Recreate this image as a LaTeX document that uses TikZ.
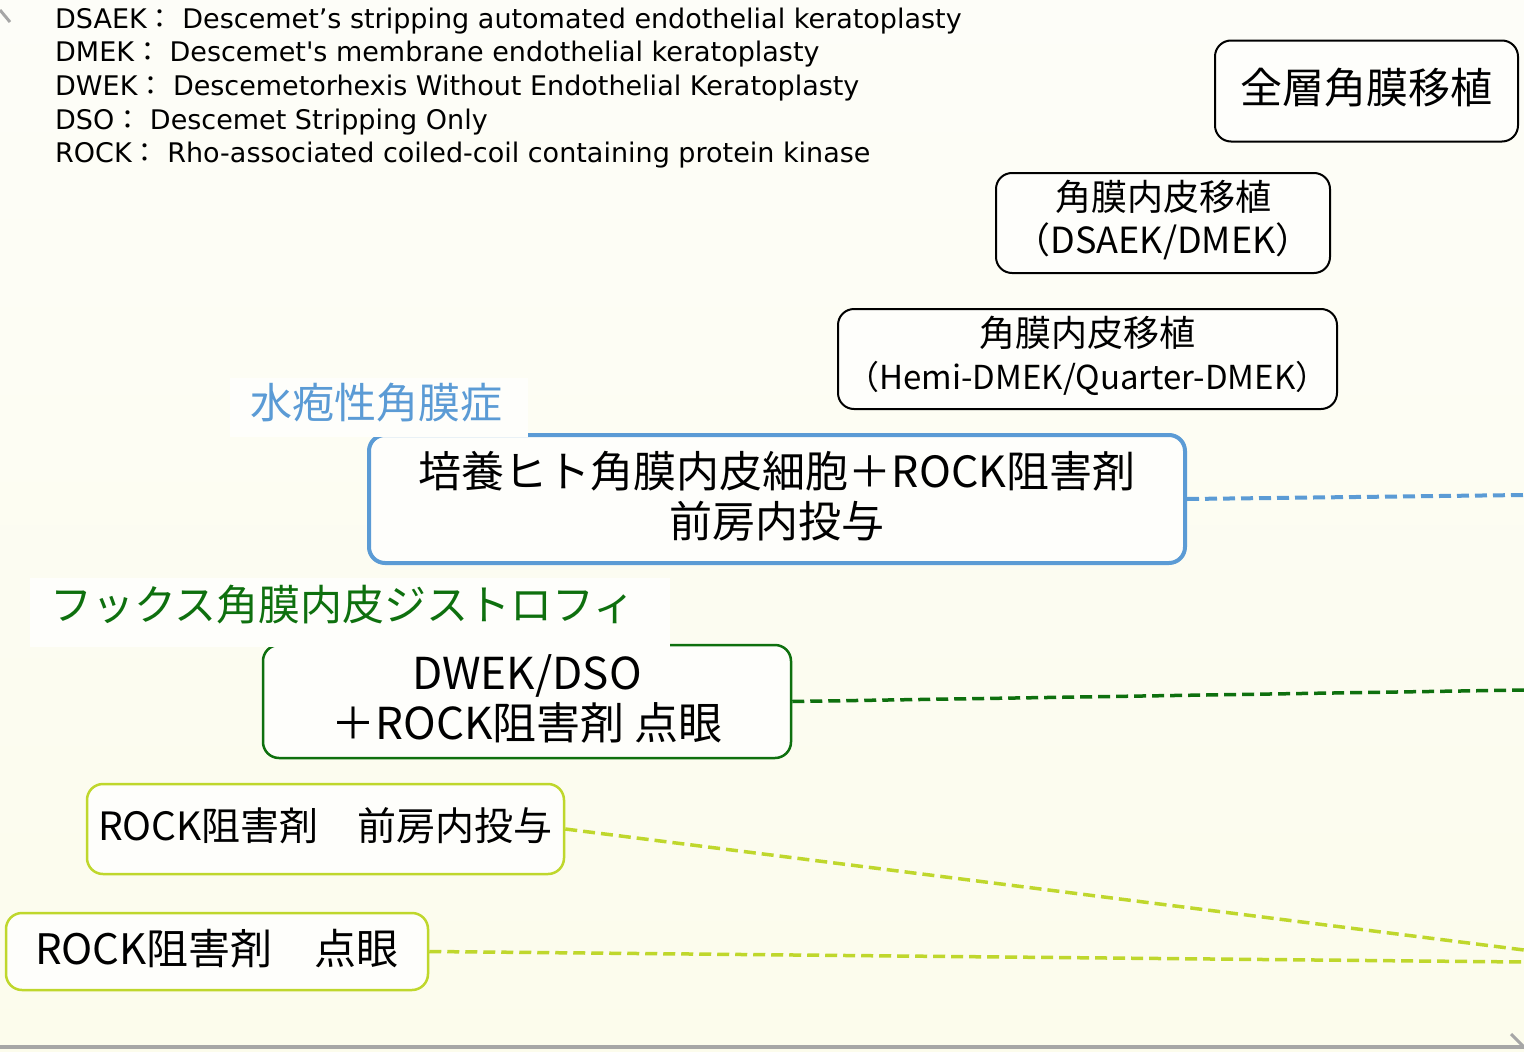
\documentclass[tikz,border=0pt]{standalone}
\usepackage{fontspec}
\setmainfont{DejaVu Sans}
\newfontfamily\dvraw{DejaVu Sans}[Ligatures=TeXOff]
\newfontfamily\jp{Noto Sans CJK JP}
\newcommand{\up}[1]{\raisebox{3pt}[\height][\depth]{#1}}
\definecolor{bgtop}{RGB}{253,253,248}
\definecolor{bgbot}{RGB}{252,252,236}
\definecolor{labelbg}{RGB}{254,254,251}
\definecolor{cblue}{HTML}{5B9BD5}
\definecolor{cgreen}{HTML}{0E700E}
\definecolor{cyg}{HTML}{BFD72C}
\definecolor{axisgray}{HTML}{A6A6A6}
\tikzset{
  legend/.style={anchor=base west, inner sep=0pt, font=\fontsize{27}{30}\selectfont},
  box/.style={draw, rounded corners=16pt, align=center, inner sep=0pt, fill=labelbg, text=black},
  blackbox/.style={box, draw=black, line width=2pt},
  bluebox/.style={box, draw=cblue, line width=4pt},
  greenbox/.style={box, draw=cgreen, line width=2.5pt},
  ygbox/.style={box, draw=cyg, line width=2.5pt},
  conn/.style={dash pattern=on 12pt off 6pt},
  title/.style={inner sep=0pt, font=\jp\fontsize{42}{46}\selectfont}
}
\begin{document}
\begin{tikzpicture}[x=1pt,y=-1pt]
\useasboundingbox (0,0) rectangle (1524,1052);
\shade[top color=bgtop, bottom color=bgbot] (0,0) rectangle (1524,1052);

% axes
\draw[axisgray, line width=4pt] (0,1047) -- (1524,1047);
\draw[axisgray, line width=3pt] (1511,1034) -- (1524,1047);
\draw[axisgray, line width=3pt] (0,10) -- (10,22);

% legend
\node[legend] (l1) at (55,28) {DSAEK{\jp ：} Descemet’s stripping automated endothelial keratoplasty};
\node[legend] (l2) at (55,61) {DMEK{\jp ：} {\dvraw Descemet's} membrane endothelial keratoplasty};
\node[legend] (l3) at (55,95) {DWEK{\jp ：} Descemetorhexis Without Endothelial Keratoplasty};
\node[legend] (l4) at (55,129) {DSO{\jp ：} Descemet Stripping Only};
\node[legend] (l5) at (55,162) {ROCK{\jp ：} Rho-associated coiled-coil containing protein kinase};

% boxes
\node[blackbox, minimum width=303pt, minimum height=101pt, font=\jp\fontsize{42}{46}\selectfont] (full) at (1366.5,91) {\up{全層角膜移植}};
\node[blackbox, minimum width=334pt, minimum height=100pt, font=\jp\fontsize{36}{43}\selectfont] (dsaek) at (1163,223) {\up{角膜内皮移植}\\\up{（DSAEK/DMEK）}};
\node[blackbox, minimum width=499pt, minimum height=100pt, font=\jp\fontsize{36}{43}\selectfont] (hemi) at (1087.5,359) {\up{角膜内皮移植}\\\up{\fontsize{33}{43}\selectfont（Hemi-DMEK/Quarter-DMEK）}};

\coordinate (eb) at (1524,495);
\coordinate (eg) at (1524,690);
\coordinate (ey1) at (1524,950);
\coordinate (ey2) at (1524,962);

\node[bluebox, minimum width=816pt, minimum height=128pt, font=\jp\fontsize{43}{50}\selectfont] (cult) at (777,499) {\up{培養ヒト角膜内皮細胞＋ROCK阻害剤}\\\up{前房内投与}};
\node[greenbox, minimum width=528pt, minimum height=113pt, font=\jp\fontsize{44}{50}\selectfont] (dwek) at (527,701.5) {\up{DWEK/DSO}\\\up{＋ROCK阻害剤 点眼}};
\node[ygbox, minimum width=477pt, minimum height=90pt, font=\jp\fontsize{39}{44}\selectfont] (rocka) at (325.5,829) {\up{ROCK阻害剤　前房内投与}};
\node[ygbox, minimum width=422pt, minimum height=77pt, font=\jp\fontsize{42}{44}\selectfont] (rocke) at (217,951.5) {\up{ROCK阻害剤　点眼}};

% connectors
\draw[conn, cblue, line width=4pt] (cult.east) -- (eb);
\draw[conn, cgreen, line width=3.5pt] (dwek.east) -- (eg);
\draw[conn, cyg, line width=3.5pt] (rocka.east) -- (ey1);
\draw[conn, cyg, line width=3.5pt] (rocke.east) -- (ey2);

% category labels
\fill[labelbg] (230,378) rectangle (528,437);
\node[title, text=cblue] (tb) at (376,403) {水疱性角膜症};
\fill[labelbg] (30,578) rectangle (670,647);
\node[title, text=cgreen] (tg) at (343,605) {フックス角膜内皮ジストロフィ};
\end{tikzpicture}
\end{document}
